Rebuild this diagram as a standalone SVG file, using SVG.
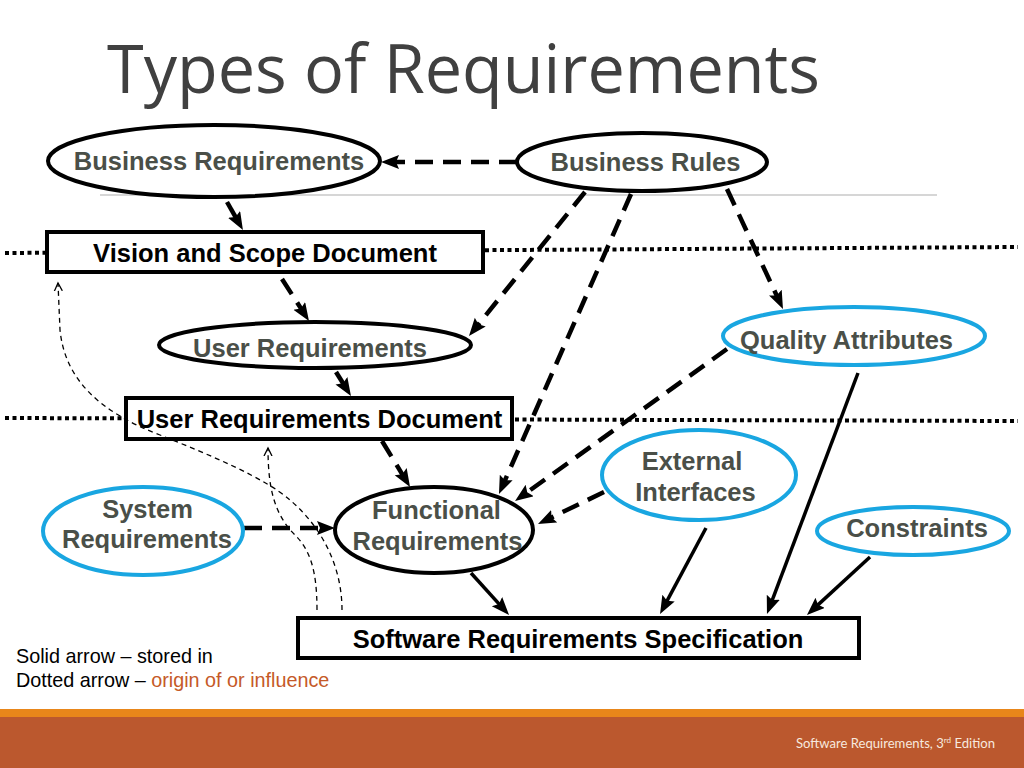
<svg xmlns="http://www.w3.org/2000/svg" width="1024" height="768" viewBox="0 0 1024 768">
<defs>
<style>
.title{font-family:"Open Sans","Liberation Sans",sans-serif;font-size:67px;fill:#404040}
.nt{font-family:"Liberation Sans",Arial,sans-serif;font-size:25.5px;font-weight:bold;fill:#4a4f48;text-anchor:middle}
.bt{font-family:"Liberation Sans",Arial,sans-serif;font-size:25.5px;font-weight:bold;fill:#000;text-anchor:middle}
.el{fill:#fff;stroke:#000;stroke-width:4}
.eb{fill:#fff;stroke:#19a6e1;stroke-width:4}
.box{fill:#fff;stroke:#000;stroke-width:4}
.dot{fill:none;stroke:#000;stroke-width:4;stroke-dasharray:4 3.5}
.dash{fill:none;stroke:#000;stroke-width:4.5;stroke-dasharray:18 10;marker-end:url(#ah)}
.solid{fill:none;stroke:#000;stroke-width:3.5;marker-end:url(#ah)}
.thin{fill:none;stroke:#000;stroke-width:1.3;stroke-dasharray:5 4;marker-end:url(#oh)}
.leg{font-family:"Liberation Sans",Arial,sans-serif;font-size:19.8px;fill:#000}
</style>
<marker id="ah" markerUnits="userSpaceOnUse" markerWidth="20" markerHeight="16" refX="6" refY="7" orient="auto">
<path d="M0,0 L18,7 L0,14 L3,7 Z" fill="#000"/>
</marker>
<marker id="oh" markerUnits="userSpaceOnUse" markerWidth="12" markerHeight="12" refX="8" refY="5" orient="auto">
<path d="M0,1 L8,5 L0,9" fill="none" stroke="#000" stroke-width="1.3"/>
</marker>
</defs>
<rect x="0" y="0" width="1024" height="768" fill="#fff"/>
<text class="title" x="107" y="93" textLength="713" lengthAdjust="spacingAndGlyphs">Types of Requirements</text>
<line x1="100" y1="195" x2="937" y2="195" stroke="#c8c8c8" stroke-width="1.5"/>
<g id="levels">
<line class="dot" x1="5" y1="253" x2="1018" y2="247"/>
<line class="dot" x1="5" y1="418" x2="1018" y2="421"/>
</g>
<g id="connectors">
<line class="dash" x1="517" y1="162" x2="393" y2="162"/>
<line class="dash" x1="227" y1="202" x2="237" y2="219.6"/>
<line class="dash" x1="282" y1="279" x2="302.5" y2="310.9"/>
<line class="dash" x1="585" y1="192" x2="476.5" y2="326.7"/>
<line class="dash" x1="336" y1="372" x2="344.6" y2="385.8"/>
<line class="dash" x1="382" y1="441" x2="403.8" y2="476.8"/>
<line class="dash" x1="631" y1="194" x2="503.8" y2="483"/>
<line class="dash" x1="727" y1="349" x2="524.8" y2="494"/>
<line class="dash" x1="604" y1="492" x2="548.8" y2="518.8"/>
<line class="dash" x1="727" y1="189" x2="777.9" y2="298.1"/>
<line class="dash" x1="244" y1="528" x2="323" y2="528"/>
<line class="solid" x1="471" y1="573" x2="501" y2="606.1"/>
<line class="solid" x1="706" y1="528" x2="665.7" y2="603.4"/>
<line class="solid" x1="858" y1="373" x2="771.2" y2="602.8"/>
<line class="solid" x1="870" y1="557" x2="815.8" y2="606.9"/>
</g>
<g id="business-requirements">
<ellipse class="el" cx="214" cy="161" rx="166" ry="36"/>
<text class="nt" x="219" y="170">Business Requirements</text>
</g>
<g id="business-rules">
<ellipse class="el" cx="642" cy="162" rx="125" ry="29"/>
<text class="nt" x="645.5" y="171">Business Rules</text>
</g>
<g id="vision-scope">
<rect class="box" x="47" y="232" width="436" height="40"/>
<text class="bt" x="265" y="262">Vision and Scope Document</text>
</g>
<g id="user-requirements">
<ellipse class="el" cx="315" cy="345" rx="156" ry="23"/>
<text class="nt" x="310" y="357">User Requirements</text>
</g>
<g id="quality-attributes">
<ellipse class="eb" cx="854" cy="336" rx="131" ry="29"/>
<text class="nt" x="846.5" y="349">Quality Attributes</text>
</g>
<g id="user-requirements-document">
<rect class="box" x="126" y="398" width="386" height="41"/>
<text class="bt" x="319.5" y="428">User Requirements Document</text>
</g>
<g id="external-interfaces">
<ellipse class="eb" cx="699" cy="475" rx="97" ry="45"/>
<text class="nt" x="692" y="470">External</text>
<text class="nt" x="695.5" y="501">Interfaces</text>
</g>
<g id="system-requirements">
<ellipse class="eb" cx="143" cy="531" rx="100" ry="44"/>
<text class="nt" x="147.5" y="518">System</text>
<text class="nt" x="147" y="548">Requirements</text>
</g>
<g id="functional-requirements">
<ellipse class="el" cx="434" cy="530" rx="99" ry="43"/>
<text class="nt" x="436.5" y="519">Functional</text>
<text class="nt" x="437.5" y="550">Requirements</text>
</g>
<g id="constraints">
<ellipse class="eb" cx="913" cy="531" rx="96" ry="24"/>
<text class="nt" x="917" y="537">Constraints</text>
</g>
<g id="srs">
<rect class="box" x="298" y="618" width="561" height="40"/>
<text class="bt" x="578" y="648">Software Requirements Specification</text>
</g>
<g id="influence-curves">
<path class="thin" d="M342,610 C342,570 325,530 290,500 C265,478 210,455 160,435 C100,412 65,380 60,330 L58,283"/>
<path class="thin" d="M317,610 C317,570 310,550 295,535 C275,515 268,490 268,448"/>
</g>
<g id="legend">
<text class="leg" x="16" y="663">Solid arrow – stored in</text>
<text class="leg" x="16" y="687">Dotted arrow – <tspan fill="#c55a28">origin of or influence</tspan></text>
</g>
<g id="footer">
<rect x="0" y="709" width="1024" height="8" fill="#e8861a"/>
<rect x="0" y="717" width="1024" height="51" fill="#bb582e"/>
<text x="796" y="748" font-family="Lato,'Open Sans',sans-serif" font-size="13" fill="#f7e9df" textLength="199" lengthAdjust="spacingAndGlyphs">Software Requirements, 3<tspan font-size="8" dy="-5">rd</tspan><tspan dy="5"> Edition</tspan></text>
</g>
</svg>
